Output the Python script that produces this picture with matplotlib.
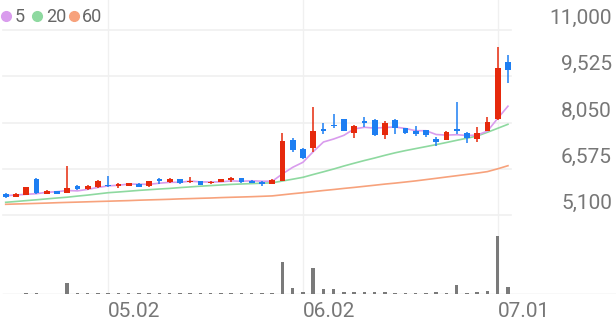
import matplotlib
matplotlib.use("Agg")
import matplotlib.pyplot as plt
import matplotlib.transforms as mtransforms

# ---------------- data ----------------
opens = [5779, 5684, 5738, 6239, 5779, 5865, 5811, 6015, 5929, 5983,
         6047, 6034, 6025, 6098, 6025, 6239, 6162, 6239, 6143, 6184,
         6121, 6162, 6207, 6270, 6194, 6162, 6089, 6194, 7476, 7195,
         7227, 7833, 7970, 8152, 7706, 8107, 8130, 7651, 8130, 7865,
         7788, 7811, 7514, 7492, 7833, 7706, 7524, 7788, 8152, 9989]
highs = [5811, 5800, 5993, 6270, 5897, 5881, 6663, 6041, 6057, 6216,
         6344, 6105, 6121, 6111, 6200, 6270, 6290, 6248, 6322, 6194,
         6175, 6258, 6322, 6280, 6207, 6175, 6239, 7706, 7546, 7246,
         8554, 8025, 8321, 8170, 7970, 8235, 8146, 8098, 8152, 7875,
         7938, 7820, 7578, 7769, 8694, 7757, 7897, 8216, 10467, 10203]
lows = [5658, 5674, 5722, 5780, 5770, 5770, 5802, 5913, 5888, 5971,
        6003, 5952, 6009, 5993, 5983, 6098, 6111, 6098, 6111, 6047,
        6079, 6152, 6162, 6130, 6121, 6025, 6079, 6184, 7100, 6886,
        7100, 7683, 7884, 7779, 7546, 7916, 7620, 7514, 7683, 7693,
        7620, 7597, 7301, 7482, 7683, 7406, 7438, 7779, 8139, 9319]
closes = [5684, 5779, 5983, 5792, 5875, 5779, 5971, 5929, 6025, 6194,
          6015, 6089, 6111, 6003, 6184, 6184, 6239, 6111, 6194, 6057,
          6162, 6248, 6270, 6143, 6130, 6098, 6226, 7460, 7173, 6927,
          7779, 7779, 7938, 7788, 7948, 8025, 7651, 8044, 7865, 7706,
          7683, 7651, 7438, 7757, 7779, 7546, 7725, 8076, 9779, 9724]
volumes = [2000, 2000, 6000, 6000, 2500, 2500, 53500, 5000, 5000, 5000,
           5000, 4000, 4000, 4000, 5000, 5000, 4000, 4000, 4000, 4000,
           4000, 4000, 4000, 4000, 4000, 4000, 5000, 161500, 28500, 11500,
           128500, 23500, 25000, 11500, 8500, 8500, 11500, 8500, 6500, 5000,
           5000, 5000, 8500, 6500, 43500, 6500, 8500, 13500, 290000, 35000]
ma5 = [5716, 5738, 5760, 5779, 5824, 5843, 5881, 5869, 5917, 5980,
       6028, 6050, 6086, 6082, 6079, 6114, 6143, 6143, 6181, 6156,
       6152, 6156, 6188, 6175, 6191, 6178, 6175, 6411, 6621, 6781,
       7119, 7428, 7524, 7642, 7846, 7897, 7871, 7891, 7907, 7859,
       7788, 7788, 7667, 7648, 7661, 7635, 7648, 7776, 8181, 8570]
ma20 = [5505, 5531, 5559, 5585, 5614, 5642, 5668, 5703, 5735, 5773,
        5811, 5834, 5859, 5885, 5907, 5929, 5948, 5974, 5996, 6019,
        6038, 6057, 6076, 6089, 6101, 6114, 6127, 6184, 6242, 6302,
        6392, 6478, 6567, 6663, 6752, 6838, 6918, 7004, 7084, 7154,
        7218, 7281, 7345, 7412, 7482, 7549, 7620, 7738, 7865, 7993]
ma60 = [5441, 5451, 5460, 5470, 5480, 5492, 5502, 5511, 5521, 5531,
        5540, 5550, 5559, 5572, 5582, 5591, 5601, 5614, 5623, 5633,
        5642, 5655, 5665, 5674, 5684, 5696, 5709, 5744, 5779, 5811,
        5846, 5881, 5913, 5948, 5980, 6015, 6050, 6086, 6117, 6152,
        6188, 6229, 6270, 6312, 6353, 6395, 6436, 6484, 6573, 6672]
price_ticks = [11000, 9525, 8050, 6575, 5100]
price_tick_labels = ["11,000", "9,525", "8,050", "6,575", "5,100"]
date_tick_idx = [10, 29, 48]
date_tick_labels = ["05.02", "06.02", "07.01"]
legend_labels = ["5", "20", "60"]

# ---------------- style ----------------
RED = "#e6290c"
BLUE = "#1d7ef2"
C5 = "#d99ced"
C20 = "#8ed9a0"
C60 = "#f7a27c"
GRID = "#f0f0f0"
TXT = "#777777"
FONT = ["Roboto", "DejaVu Sans"]
plt.rcParams["font.family"] = FONT

W, H = 616, 321
fig = plt.figure(figsize=(W / 100, H / 100), dpi=100)

x_left = (0 - 5.7) / 10.25
x_right = (W - 5.7) / 10.25

ax = fig.add_axes([0, (H - 218) / H, 1, 218 / H])
axv = fig.add_axes([0, (H - 294) / H, 1, 76 / H])
for a in (ax, axv):
    a.set_xlim(x_left, x_right)
    a.axis("off")
ax.set_ylim(5004.3, 11956.8)
axv.set_ylim(0, 380000)

idx = list(range(len(closes)))

# grid
for t in price_ticks:
    ax.axhline(t, xmin=3 / W, xmax=511 / W, color=GRID, lw=1.2, zorder=0)
for d in date_tick_idx:
    ax.axvline(d, color=GRID, lw=1, zorder=0)
    axv.axvline(d, color=GRID, lw=1, zorder=0)
axv.axhline(0, xmin=3 / W, xmax=1, color="#dcdcdc", lw=1, zorder=1)

# moving averages
ax.plot(idx, ma60, color=C60, lw=1.2, zorder=2)
ax.plot(idx, ma20, color=C20, lw=1.2, zorder=2)
ax.plot(idx, ma5, color=C5, lw=1.2, zorder=2)

# candles
for i in idx:
    o, h, l, c = opens[i], highs[i], lows[i], closes[i]
    col = RED if c >= o else BLUE
    ax.vlines(i, l, h, color=col, lw=1.1, zorder=3)
    ax.bar(i, max(abs(c - o), 25), bottom=min(o, c), width=0.55,
           color=col, zorder=4, linewidth=0)

# volume
axv.bar(idx, volumes, width=0.35, color="#7a7a7a", zorder=2, linewidth=0)

# price labels
for t, lab in zip(price_ticks, price_tick_labels):
    ax.annotate(lab, xy=(612 / W, t), xycoords=("axes fraction", "data"),
                xytext=(0, 4.3), textcoords="offset points",
                ha="right", va="baseline", fontsize=15, color=TXT)

# date labels
trans = mtransforms.blended_transform_factory(axv.transData, fig.transFigure)
for d, lab in zip(date_tick_idx, date_tick_labels):
    axv.text(d, 1 - 316.7 / H, lab, transform=trans, ha="left",
             va="baseline", fontsize=15, color=TXT)

# legend
for cx, col in zip([6.3, 37, 74], [C5, C20, C60]):
    fig.lines.append(plt.Line2D([cx / W], [1 - 15.7 / H], marker="o",
                                markersize=7, color=col, linestyle="none",
                                transform=fig.transFigure))
for tx, lab in zip([15, 46, 82], legend_labels):
    fig.text(tx / W, 1 - 21.7 / H, lab, ha="left", va="baseline",
             fontsize=13, color="#666666")

fig.savefig("out.png", dpi=100)
